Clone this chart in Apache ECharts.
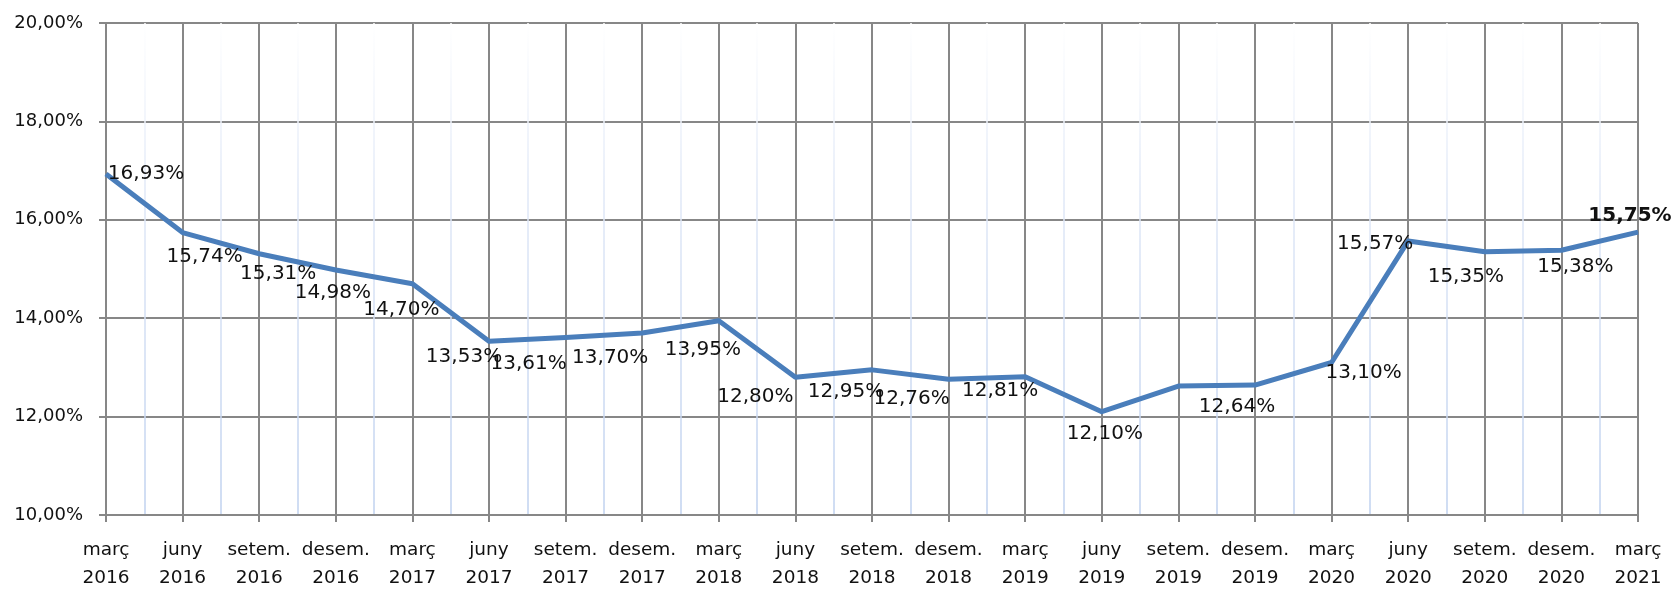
<!DOCTYPE html>
<html>
<head>
<meta charset="utf-8">
<script src="https://cdn.jsdelivr.net/npm/echarts@6/dist/echarts.min.js"></script>
<style>
  html, body { margin: 0; padding: 0; background: #fff; }
  #chart { width: 1672px; height: 592px; }
</style>
</head>
<body>
<div id="chart"></div>
<script>
// categories (quarters)
var categories = [
  'març\n2016', 'juny\n2016', 'setem.\n2016', 'desem.\n2016',
  'març\n2017', 'juny\n2017', 'setem.\n2017', 'desem.\n2017',
  'març\n2018', 'juny\n2018', 'setem.\n2018', 'desem.\n2018',
  'març\n2019', 'juny\n2019', 'setem.\n2019', 'desem.\n2019',
  'març\n2020', 'juny\n2020', 'setem.\n2020', 'desem.\n2020',
  'març\n2021'
];

// series values (%)
var values = [
  16.93, 15.74, 15.31, 14.98,
  14.70, 13.53, 13.61, 13.70,
  13.95, 12.80, 12.95, 12.76,
  12.81, 12.10, 12.62, 12.64,
  13.10, 15.57, 15.35, 15.38,
  15.75
];

// y axis range
var yMin = 10;
var yMax = 20;
var yStep = 2;

// label placement, like the Excel original (pixels from the point)
var labelOffsets = [
  [40, 0], [22, 24], [19, 20], [-3, 23],
  [-11, 26], [-25, 15], [-37, 26], [-32, 25],
  [-16, 29], [-40, 20], [-26, 22], [-37, 20],
  [-25, 14], [3, 22], null, [-18, 22],
  [32, 10], [-33, 3], [-19, 25], [14, 16],
  [-8, -16]
];

var FONT = 'DejaVu Sans';
var GRAY = '#878787';

function pct(v) {
  return v.toFixed(2).replace('.', ',') + '%';
}

var seriesData = values.map(function (v, i) {
  var off = labelOffsets[i];
  var item = { value: v, label: { show: !!off } };
  if (off) item.label.offset = off;
  if (i === values.length - 1) item.label.fontWeight = 'bold';
  return item;
});

var chart = echarts.init(document.getElementById('chart'));

chart.setOption({
  animation: false,
  backgroundColor: '#fff',
  grid: { left: 106, right: 34, top: 23, bottom: 71 },
  xAxis: [
    {
      type: 'category',
      data: categories,
      boundaryGap: false,
      axisLine: { lineStyle: { color: GRAY, width: 2 } },
      axisTick: { show: true, length: 7, lineStyle: { color: GRAY, width: 2 } },
      axisLabel: {
        color: '#111', fontFamily: FONT, fontSize: 18.5,
        lineHeight: 28, margin: 21, interval: 0
      },
      splitLine: { show: true, lineStyle: { color: GRAY, width: 2 } }
    },
    {
      // only used for the light minor lines between quarters
      type: 'value',
      min: 0,
      max: categories.length - 1,
      interval: 1,
      show: true,
      axisLine: { show: false },
      axisTick: { show: false },
      axisLabel: { show: false },
      splitLine: { show: false },
      minorTick: { show: false, splitNumber: 2 },
      minorSplitLine: {
        show: true,
        lineStyle: {
          width: 1.5,
          color: new echarts.graphic.LinearGradient(0, 23, 0, 521, [
            { offset: 0, color: '#ffffff' },
            { offset: 0.35, color: '#e0e8f7' },
            { offset: 1, color: '#bfd1ef' }
          ], true)
        }
      }
    }
  ],
  yAxis: {
    type: 'value',
    min: yMin,
    max: yMax,
    interval: yStep,
    axisLine: { show: true, lineStyle: { color: GRAY, width: 2 } },
    axisTick: { show: true, length: 7, lineStyle: { color: GRAY, width: 2 } },
    axisLabel: {
      color: '#111', fontFamily: FONT, fontSize: 18, margin: 23,
      formatter: function (v) { return pct(v); }
    },
    splitLine: { show: true, lineStyle: { color: GRAY, width: 2 } }
  },
  series: [
    {
      type: 'line',
      xAxisIndex: 0,
      data: seriesData,
      symbol: 'circle',
      symbolSize: 1,
      itemStyle: { color: '#4a7ebb' },
      lineStyle: { color: '#4a7ebb', width: 5, join: 'round' },
      label: {
        show: true,
        position: 'inside',
        color: '#111',
        fontFamily: FONT,
        fontSize: 20,
        formatter: function (p) { return pct(p.value); }
      },
      z: 5
    }
  ]
});
</script>
</body>
</html>
